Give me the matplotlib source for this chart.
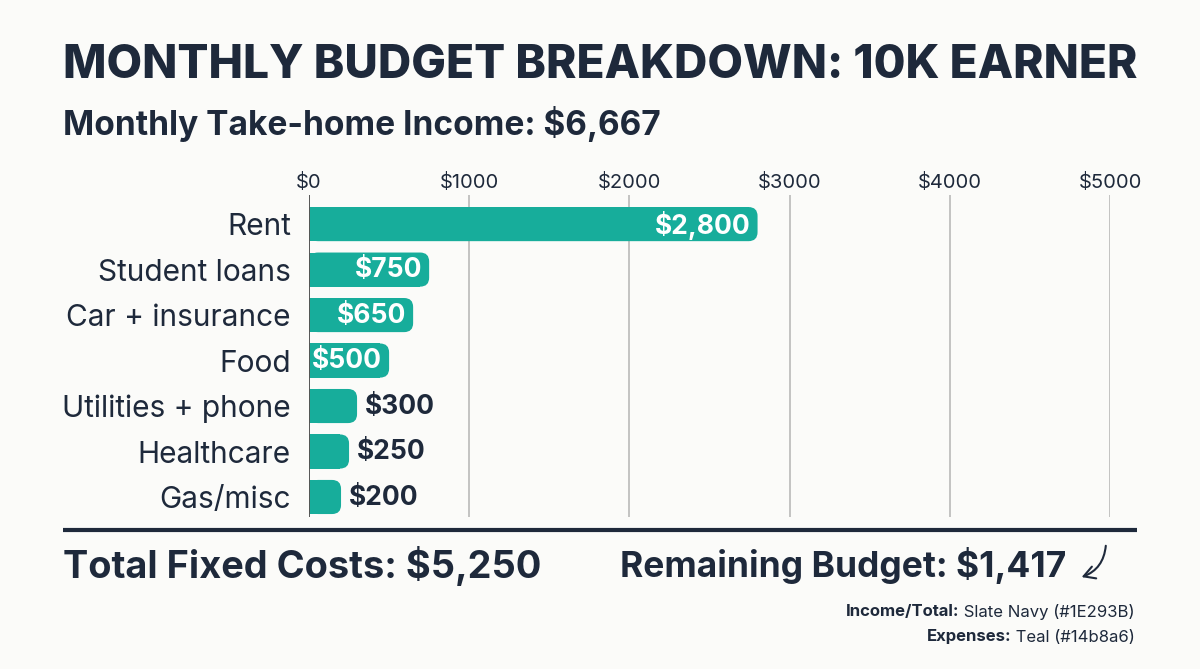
import matplotlib
matplotlib.use("Agg")
import matplotlib.pyplot as plt
from matplotlib.patches import FancyBboxPatch, Rectangle, FancyArrowPatch

# data
categories = ["Rent", "Student loans", "Car + insurance", "Food",
              "Utilities + phone", "Healthcare", "Gas/misc"]
amounts = [2800, 750, 650, 500, 300, 250, 200]
ticks = [0, 1000, 2000, 3000, 4000, 5000]
tick_labels = ["$0", "$1000", "$2000", "$3000", "$4000", "$5000"]
income = 6667
total_fixed = 5250
remaining = 1417

NAVY = "#1E293B"
TEAL = "#17ad9b"
BG = "#fbfbf9"
FONT = ["Inter", "DejaVu Sans"]

W, H = 1200, 669
fig = plt.figure(figsize=(12, 6.69), dpi=100, facecolor=BG)
renderer = fig.canvas.get_renderer()


def fx(px):
    return px / W


def fy(py):
    return 1 - py / H


def fit_text(x, y, s, target_w, size, **kw):
    # shrink / grow the font until the text spans target_w pixels
    t = fig.text(x, y, s, fontsize=size, family=FONT, **kw)
    w = t.get_window_extent(renderer).width
    t.set_fontsize(size * target_w / w)
    return t


# axes: $0 at px 309, $5000 at px 1110, grid from y 195 to 517
ax = fig.add_axes([fx(309), fy(517), fx(1110 - 309), (517 - 195) / H])
ax.set_facecolor("none")
ax.set_xlim(0, 5000)
ax.set_ylim(len(categories) - 0.56, -0.64)

for t in ticks[1:]:
    ax.axvline(t, color="#b9b9b9", lw=1.2, zorder=0)
ax.axvline(0, color="#555555", lw=1.4, zorder=3)

ax.set_xticks(ticks)
ax.set_xticklabels(tick_labels, family=FONT, fontsize=14.5, color=NAVY)
ax.xaxis.tick_top()
ax.tick_params(axis="x", length=0, pad=2)
ax.set_yticks(range(len(categories)))
ax.set_yticklabels(categories, family=FONT, fontsize=21.5, color=NAVY)
ax.tick_params(axis="y", length=0, pad=13)
for s in ax.spines.values():
    s.set_visible(False)

bar_h = 0.75
px_x = (1110 - 309) / 5000.0   # pixels per dollar
px_y = 45.5                    # pixels per row
r_px = 9
for i, v in enumerate(amounts):
    y0 = i - bar_h / 2
    rx = r_px / px_x
    box = FancyBboxPatch((0, y0), v, bar_h,
                         boxstyle="round,pad=0,rounding_size=%f" % rx,
                         mutation_aspect=(r_px / px_y) / rx,
                         fc=TEAL, ec="none", zorder=2)
    ax.add_patch(box)
    ax.add_patch(Rectangle((0, y0), v - rx, bar_h, fc=TEAL, ec="none", zorder=2))
    label = "${:,}".format(v)
    if v >= 500:
        ax.text(v - 7 / px_x, i + 0.02, label, ha="right", va="center",
                color="white", fontsize=19, fontweight="bold", family=FONT, zorder=4)
    else:
        ax.text(v + 8 / px_x, i + 0.02, label, ha="left", va="center",
                color=NAVY, fontsize=19, fontweight="bold", family=FONT, zorder=4)

# titles
fit_text(fx(63), fy(66), "MONTHLY BUDGET BREAKDOWN: 10K EARNER", 1074, 30,
         fontweight="heavy", color=NAVY, va="center", ha="left")
fit_text(fx(63), fy(124), "Monthly Take-home Income: ${:,}".format(income), 597, 22,
         fontweight="bold", color=NAVY, va="center", ha="left")

# bottom rule
fig.add_artist(plt.Line2D([fx(63), fx(1137)], [fy(530), fy(530)],
                          color=NAVY, lw=3, solid_capstyle="butt"))

fit_text(fx(63), fy(566), "Total Fixed Costs: ${:,}".format(total_fixed), 478, 26,
         fontweight="bold", color=NAVY, va="center", ha="left")
fit_text(fx(620), fy(566), "Remaining Budget: ${:,}".format(remaining), 447, 24,
         fontweight="bold", color=NAVY, va="center", ha="left")

arrow = FancyArrowPatch((fx(1106), fy(543)), (fx(1079), fy(578)),
                        transform=fig.transFigure,
                        connectionstyle="arc3,rad=-0.35",
                        arrowstyle="->,head_length=8,head_width=4.5",
                        color=NAVY, lw=1.5)
fig.add_artist(arrow)

# footnote with bold lead-in
for py, lead, rest in [(612, "Income/Total:", " Slate Navy (#1E293B)"),
                       (637, "Expenses:", " Teal (#14b8a6)")]:
    t = fig.text(fx(1135), fy(py), rest, ha="right", va="center",
                 fontsize=12, color=NAVY, family=FONT)
    w = t.get_window_extent(renderer).width
    fig.text(fx(1135 - w), fy(py), lead, ha="right", va="center",
             fontsize=12, color=NAVY, family=FONT, fontweight="bold")

fig.savefig("out.png", dpi=100, facecolor=BG)
